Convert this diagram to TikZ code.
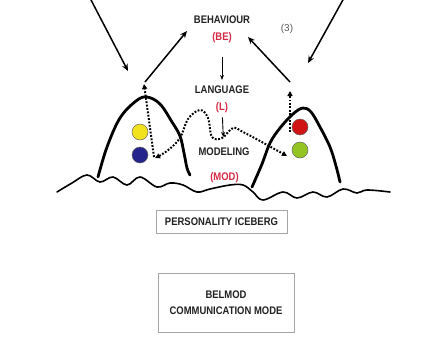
\documentclass[tikz,border=0pt]{standalone}
\usepackage{fontspec}
\setmainfont{Liberation Sans}
\newfontfamily\labfont{Liberation Sans}[FakeStretch=0.86]
\usetikzlibrary{arrows.meta}
\definecolor{txt}{HTML}{222222}
\definecolor{redt}{HTML}{D42A45}
\definecolor{ballyellow}{HTML}{F2E21E}
\definecolor{ballblue}{HTML}{24248C}
\definecolor{ballred}{HTML}{D01414}
\definecolor{ballgreen}{HTML}{94C422}
\begin{document}
\begin{tikzpicture}[x=1pt,y=-1pt,
  lbl/.style={font=\labfont\fontsize{11}{12}\selectfont\bfseries, text=txt, inner sep=0pt},
  rlbl/.style={lbl, text=redt},
  arr/.style={line width=1.5pt, -{Stealth[length=7pt,width=6pt]}},
  thinarr/.style={line width=0.9pt, -{Stealth[length=5pt,width=4pt]}},
  dots/.style={line width=2pt, dash pattern=on 1.8pt off 1.6pt},
  dottip/.style={-{Triangle[length=5pt,width=5pt]}},
  berg/.style={line width=2.8pt, line cap=round, line join=round},
  ground/.style={line width=1.6pt, line cap=round},
  ball/.style={circle, minimum size=16pt, inner sep=0pt, draw=black!60, line width=0.5pt},
  boxed/.style={draw=gray!70, line width=0.8pt}
]
\useasboundingbox (0,0) rectangle (434,338);
\fill[white] (0,0) rectangle (434,338);

% labels
\node[lbl] (be) at (222,20) {BEHAVIOUR};
\node[rlbl] (bet) at (222,38) {(BE)};
\node[lbl] (lang) at (222,90) {LANGUAGE};
\node[rlbl] (lt) at (222,108) {(L)};
\node[lbl] (mod) at (224,152) {MODELING};
\node[rlbl] (modt) at (224.5,178) {(MOD)};
\node[font=\fontsize{10}{11}\selectfont, text=black!65, inner sep=0pt] (three) at (287,29) {(3)};

% vertical arrows
\draw[thinarr, shorten <=14pt, shorten >=6pt] (bet) -- (lang);
\draw[thinarr, shorten <=4pt, shorten >=11pt] (lt) -- (mod);

% big arrows from outside
\coordinate (tl) at (90,-2);
\coordinate (lpk) at (128,71);
\coordinate (tr) at (344,-2);
\coordinate (rpk) at (308,63);
\draw[arr] (tl) -- (lpk);
\draw[arr] (tr) -- (rpk);

% arrows to behaviour
\coordinate (la) at (145,82);
\coordinate (lb) at (187,31);
\coordinate (ra) at (290,82);
\coordinate (rb) at (248,37);
\draw[arr] (la) -- (lb);
\draw[arr] (ra) -- (rb);

% ground
\draw[ground] plot[smooth, tension=0.6] coordinates {(57,192) (72,183) (87,175) (100,182) (113,177) (127,185) (140,177) (157,187) (170,183) (183,185) (197,192) (210,189) (230,185) (243,185) (253,192) (263,200) (283,192) (297,198) (313,192) (327,197) (343,189) (357,193) (367,190) (390,192)};

% icebergs
\draw[berg] plot[smooth, tension=0.6] coordinates {(98,177) (107,147) (120,118) (136,101) (147,97) (160,104) (172,122) (180,136) (184,153) (187,168) (190,175)};
\draw[berg] plot[smooth, tension=0.6] coordinates {(252,187) (262,164) (270,143) (280,128) (293,114) (303,108) (311,112) (320,127) (330,147) (336,166) (340,182)};

% dotted paths
\coordinate (lbot) at (154,157);
\coordinate (ltop) at (144,84);
\coordinate (rbot) at (290,132);
\coordinate (rtop) at (290,91);
\draw[dots, dottip] (lbot) -- (ltop);
\draw[dots, dottip] (rbot) -- (rtop);
\draw[dots, {Triangle[length=5pt,width=5pt]}-{Triangle[length=5pt,width=5pt]}] plot[smooth, tension=0.6] coordinates {(155,158) (167,151) (180,138) (188,119) (200,110) (208,118) (212,137) (222,138) (233,128) (243,132) (260,141) (287,156)};

% balls
\node[ball, fill=ballyellow] (yb) at (140,132) {};
\node[ball, fill=ballblue] (bb) at (140,155) {};
\node[ball, fill=ballred] (rb2) at (300,127) {};
\node[ball, fill=ballgreen] (gb) at (300,150) {};

% boxes
\node[boxed, lbl, minimum width=131pt, minimum height=23pt] (pi) at (221.5,221.5) {PERSONALITY ICEBERG};
\node[boxed, font=\labfont\fontsize{11}{16}\selectfont\bfseries, text=txt, align=center, minimum width=136pt, minimum height=59pt] (bm) at (226,302.5) {BELMOD\\COMMUNICATION MODE};
\end{tikzpicture}
\end{document}
